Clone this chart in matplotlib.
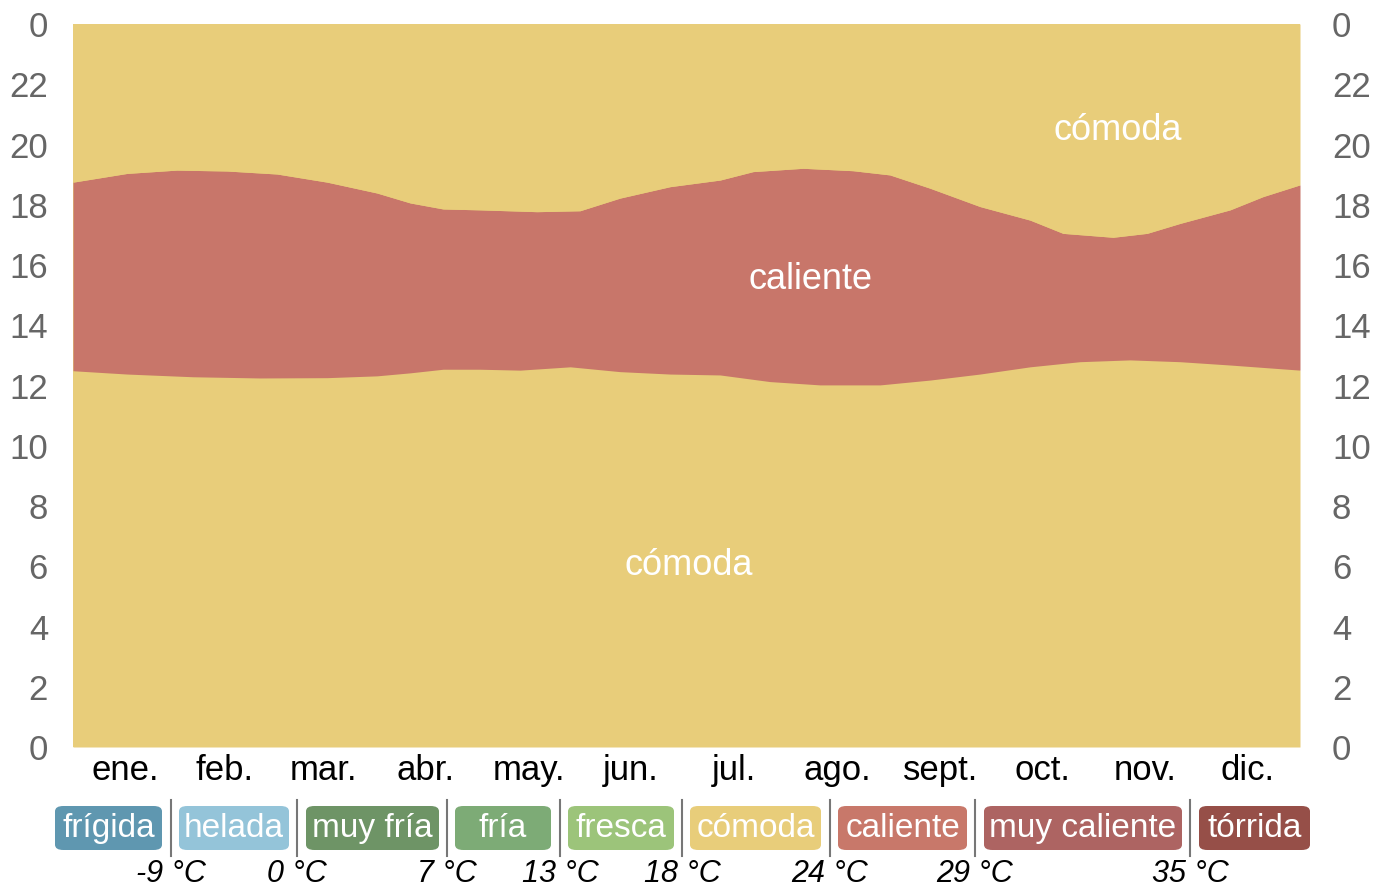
import matplotlib
matplotlib.use("Agg")
import matplotlib.pyplot as plt
from matplotlib.patches import FancyBboxPatch
from matplotlib.lines import Line2D
import numpy as np

plt.rcParams['font.family'] = ['Liberation Sans', 'DejaVu Sans']

# ---- data (day of year -> hour of day) ----
upper_days = [0, 16.1, 30.9, 45.8, 60.7, 75.6, 90.4, 100.3, 110.1, 121.1, 138.0, 150.8,
              162.7, 177.6, 192.5, 202.3, 217.2, 232.0, 243.0, 254.9, 269.8, 284.7,
              294.5, 309.4, 319.5, 329.3, 344.2, 354.0, 365]
upper_hours = [18.75, 19.04, 19.15, 19.12, 19.02, 18.75, 18.39, 18.06, 17.86, 17.83, 17.77, 17.80,
               18.22, 18.60, 18.82, 19.10, 19.21, 19.13, 18.99, 18.55, 17.94, 17.49,
               17.05, 16.92, 17.05, 17.38, 17.83, 18.27, 18.66]
lower_days = [0, 16.1, 35.7, 55.6, 75.6, 90.4, 100.3, 110.1, 121.1, 133.0, 147.9, 162.7,
              177.6, 192.5, 207.3, 222.2, 240.1, 254.9, 269.8, 284.7, 299.5, 314.4,
              329.3, 344.2, 365]
lower_hours = [12.49, 12.38, 12.29, 12.25, 12.26, 12.32, 12.42, 12.54, 12.54, 12.51, 12.62, 12.46,
               12.38, 12.35, 12.13, 12.02, 12.02, 12.18, 12.38, 12.62, 12.79, 12.85,
               12.79, 12.68, 12.51]

months = ["ene.", "feb.", "mar.", "abr.", "may.", "jun.", "jul.", "ago.", "sept.", "oct.", "nov.", "dic."]
month_days = [31, 28, 31, 30, 31, 30, 31, 31, 30, 31, 30, 31]
ytick_vals = [0, 2, 4, 6, 8, 10, 12, 14, 16, 18, 20, 22, 24]
ytick_labels = ["0", "2", "4", "6", "8", "10", "12", "14", "16", "18", "20", "22", "0"]

band_labels = [("cómoda", 310.8, 20.48), ("caliente", 219.5, 15.53), ("cómoda", 183.2, 6.04)]

legend_names = ["frígida", "helada", "muy fría", "fría", "fresca", "cómoda", "caliente", "muy caliente", "tórrida"]
legend_colors = ["#5f97b0", "#94c4d9", "#6e9466", "#7dab76", "#9cc47a", "#e8cd7a", "#c8786a", "#ad6462", "#964f48"]
legend_temps = ["-9 °C", "0 °C", "7 °C", "13 °C", "18 °C", "24 °C", "29 °C", "35 °C"]

COMODA = "#e8cd7a"
CALIENTE = "#c8766a"
TICK_GREY = "#666666"

W, H = 1385, 888
fig = plt.figure(figsize=(W / 100, H / 100), dpi=100)
ax = fig.add_axes([73 / W, 1 - 747 / H, (1300 - 73) / W, (747 - 24) / H])
ax.set_facecolor(COMODA)

grid = np.union1d(upper_days, lower_days)
up = np.interp(grid, upper_days, upper_hours)
lo = np.interp(grid, lower_days, lower_hours)
ax.fill_between(grid, 0, lo, color=COMODA, lw=0)
ax.fill_between(grid, lo, up, color=CALIENTE, lw=0)
ax.fill_between(grid, up, 24, color=COMODA, lw=0)

ax.set_xlim(0, 365)
ax.set_ylim(0, 24)
for s in ax.spines.values():
    s.set_visible(False)

starts = np.cumsum([0] + month_days[:-1])
centres = [s + d / 2 for s, d in zip(starts, month_days)]
ax.set_xticks(centres)
ax.set_xticklabels(months, fontsize=25, color="black")
ax.tick_params(axis="x", length=0, pad=5)

ax.set_yticks(ytick_vals)
ax.set_yticklabels(ytick_labels, fontsize=25, color=TICK_GREY)
ax.tick_params(axis="y", length=0, pad=18)

ax2 = ax.twinx()
ax2.set_ylim(0, 24)
ax2.set_yticks(ytick_vals)
ax2.set_yticklabels(ytick_labels, fontsize=25, color=TICK_GREY)
ax2.tick_params(axis="y", length=0, pad=23)
for s in ax2.spines.values():
    s.set_visible(False)

for txt, d, h in band_labels:
    ax.text(d, h, txt, color="white", fontsize=26, ha="center", va="center")

# ---- legend ----
box_x = [(55, 162), (179, 289), (306, 439), (455, 551), (568, 674), (690, 821), (838, 967), (984, 1182), (1199, 1310)]
sep_x = [171, 297, 447, 560, 682, 830, 975, 1190]
by0, by1 = 806, 850
for (x0, x1), name, col in zip(box_x, legend_names, legend_colors):
    p = FancyBboxPatch((x0 / W, 1 - by1 / H), (x1 - x0) / W, (by1 - by0) / H,
                       boxstyle="round,pad=0,rounding_size=0.006", transform=fig.transFigure,
                       facecolor=col, edgecolor="none")
    fig.add_artist(p)
    fig.text((x0 + x1) / 2 / W, 1 - (by0 + by1) / 2 / H, name, color="white", fontsize=24,
             ha="center", va="center")
for sx, t in zip(sep_x, legend_temps):
    fig.add_artist(Line2D([sx / W, sx / W], [1 - 800 / H, 1 - 856 / H], color="#777777", lw=1.5,
                          transform=fig.transFigure))
    fig.text(sx / W, 1 - 874 / H, t, fontsize=22, style="italic", color="black", ha="center", va="center")

fig.savefig("out.png", dpi=100)
